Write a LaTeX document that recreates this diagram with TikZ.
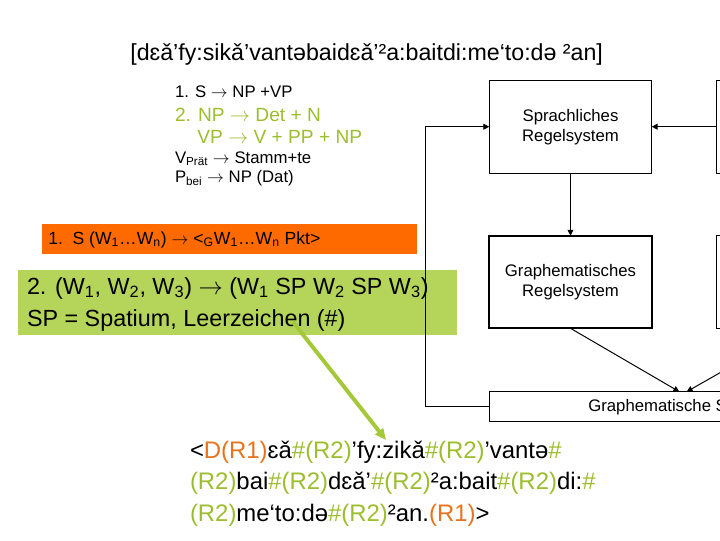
\documentclass[tikz,border=0pt]{standalone}
\usepackage{fontspec}
\setmainfont{Liberation Sans}
\usepackage{xcolor}
\usepackage{tikz}
\usetikzlibrary{arrows.meta,positioning}
\definecolor{boxOrange}{HTML}{FF6A00}
\definecolor{boxLime}{HTML}{B5D45A}
\definecolor{txtOrange}{HTML}{E8731E}
\definecolor{txtLime}{HTML}{9CBD2E}
\definecolor{arrLime}{HTML}{A3C93A}
\newcommand{\ornT}[1]{\textcolor{txtOrange}{#1}}
\newcommand{\grnT}[1]{\textcolor{txtLime}{#1}}
\newcommand{\ra}{$\rightarrow$}

\begin{document}
\begin{tikzpicture}[
    x=0.025cm,y=-0.025cm,
    every node/.style={inner sep=0pt,outer sep=0pt},
    regbox/.style={draw,line width=0.7pt,minimum width=4.06cm,minimum height=2.33cm,
                   align=center,font=\fontsize{11.9}{14.2}\selectfont},
    hilite/.style={anchor=north west,minimum width=#1},
    arr/.style={-{Triangle[length=4.2pt,width=4.2pt]},line width=0.7pt},
    lab/.style={anchor=base west},
    big/.style={font=\fontsize{16.6}{19}\selectfont},
    small/.style={font=\fontsize{11.9}{14}\selectfont},
    mid/.style={font=\fontsize{13.6}{16}\selectfont,text=txtLime},
    phon/.style={anchor=base west,font=\fontsize{17}{20}\selectfont}
  ]
  \useasboundingbox (0,0) rectangle (720,540);
  %% Transcription on top
  \node[font=\fontsize{16.5}{19}\selectfont,anchor=base] (ipa) at (366.7,60)
        {[dɛǎ’fy:sikǎ’vantəbaidɛǎ’²a:baitdi:me‘to:də ²an]};
  %% Phrase structure rules
  \node[lab,small] (r1) at (175,97.7)  {1. S \ra{} NP +VP};
  \node[lab,mid]   (r2) at (175,121.7) {2. NP \ra{} Det + N};
  \node[lab,mid]   (r3) at (197.3,143.3) {VP \ra{} V + PP + NP};
  \node[lab,small] (r4) at (175,163.3) {V\textsubscript{Prät} \ra{} Stamm+te};
  \node[lab,small] (r5) at (175,182.7) {P\textsubscript{bei} \ra{} NP (Dat)};
  %% Orange and green rule boxes
  \node[hilite=9.36cm,minimum height=0.758cm,fill=boxOrange] (orangeBox) at (42.3,224) {};
  \node[lab,font=\fontsize{12.5}{14}\selectfont] (orangeTxt) at (48.3,244)
        {1.\hspace{0.55em}S (W\textsubscript{1}…W\textsubscript{n}) \ra{} <\textsubscript{G}W\textsubscript{1}…W\textsubscript{n} Pkt>};
  \node[hilite=10.96cm,minimum height=1.625cm,fill=boxLime] (limeBox) at (18.3,270) {};
  \node[lab,big] (limeA) at (27,294)
        {2. (W\textsubscript{1}, W\textsubscript{2}, W\textsubscript{3}) \ra{} (W\textsubscript{1} SP W\textsubscript{2} SP W\textsubscript{3})};
  \node[lab,big] (limeB) at (27,326.5) {SP = Spatium, Leerzeichen (\#)};
  %% Block diagram on the right
  \node[regbox] (sprach) at (570.5,126.7) {Sprachliches\\Regelsystem};
  \node[regbox,line width=1.3pt,minimum height=2.315cm] (regelG) at (570.5,282) {Graphematisches\\Regelsystem};
  \node[regbox] (rbox1) at (797.9,126.7) {};
  \node[regbox,minimum height=2.315cm] (rbox2) at (797.9,282) {};
  \node[draw,line width=0.7pt,anchor=west,minimum width=10cm,minimum height=0.75cm] (graphS) at (489.3,406.7) {};
  \node[lab,font=\fontsize{11.9}{14}\selectfont] (graphSlab) at (588.3,411.7) {Graphematische S};
  \coordinate (bend) at (425,406.7);
  \coordinate (tipL) at (679.3,391.7);
  \coordinate (tipR) at (686.7,391.7);
  \draw[arr] (rbox1.west) -- (sprach.east);
  \draw[arr] (sprach.south) -- (regelG.north);
  \draw[arr] (graphS.west) -- (bend) |- (sprach.west);
  \draw[arr] (regelG.south) -- (tipL);
  \draw[arr] (rbox2.south) -- (tipR);
  %% Graphematic string
  \node[phon] (phonA) at (190,458)
        {<\ornT{D(R1)}ɛǎ\grnT{\#(R2)}’fy:zikǎ\grnT{\#(R2)}’vantə\grnT{\#}};
  \node[phon] (phonB) at (190,489.5)
        {\grnT{(R2)}bai\grnT{\#(R2)}dɛǎ’\grnT{\#(R2)}²a:bait\grnT{\#(R2)}di:\grnT{\#}};
  \node[phon] (phonC) at (190,521)
        {\grnT{(R2)}me‘to:də\grnT{\#(R2)}²an.\ornT{(R1)}>};
  \coordinate (spFrom) at (293,322);
  \coordinate (spTo) at (386,440);
  \draw[-{Triangle[length=8pt,width=7pt]},line width=2.8pt,arrLime] (spFrom) -- (spTo);
\end{tikzpicture}
\end{document}
